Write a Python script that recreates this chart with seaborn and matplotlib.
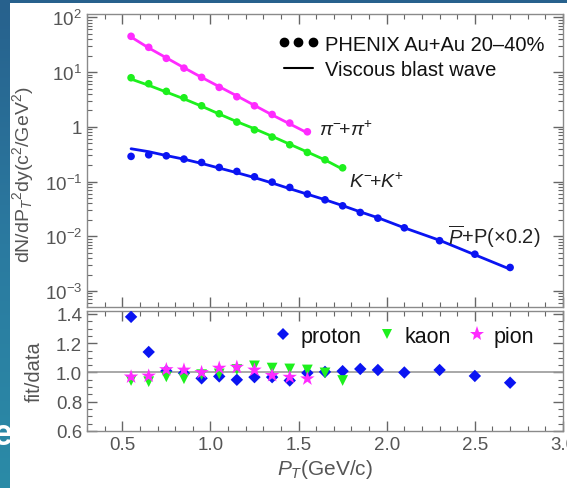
import numpy as np
import pandas as pd
import matplotlib
matplotlib.use("Agg")
import matplotlib.pyplot as plt
import seaborn as sns
from matplotlib.lines import Line2D
from matplotlib.patches import Rectangle
from matplotlib.colors import LinearSegmentedColormap
from matplotlib.ticker import FixedLocator, FixedFormatter, MultipleLocator, LogLocator, NullFormatter

# ---------------- data ----------------
pion_pt = [0.55, 0.65, 0.75, 0.85, 0.95, 1.05, 1.15, 1.25, 1.35, 1.45, 1.55]
pion_data = [45, 28.3, 17.8, 11.8, 8.0, 5.25, 3.54, 2.42, 1.68, 1.17, 0.81]
pion_fit = [43.7, 27.6, 18.2, 12.0, 8.0, 5.41, 3.67, 2.46, 1.65, 1.13, 0.775]
pion_ratio = [0.97, 0.976, 1.02, 1.017, 1.0, 1.03, 1.036, 1.017, 0.98, 0.968, 0.957]

kaon_pt = [0.55, 0.65, 0.75, 0.85, 0.95, 1.05, 1.15, 1.25, 1.35, 1.45, 1.55, 1.65, 1.75]
kaon_data = [7.87, 6.12, 4.44, 3.39, 2.42, 1.73, 1.22, 0.88, 0.65, 0.47, 0.34, 0.249, 0.178]
kaon_fit = [7.44, 5.73, 4.31, 3.24, 2.38, 1.71, 1.24, 0.92, 0.67, 0.48, 0.346, 0.248, 0.168]
kaon_ratio = [0.945, 0.937, 0.97, 0.957, 0.985, 0.99, 1.02, 1.045, 1.03, 1.024, 1.017, 0.997, 0.945]

proton_pt = [0.55, 0.65, 0.75, 0.85, 0.95, 1.05, 1.15, 1.25, 1.35, 1.45, 1.55, 1.65,
             1.75, 1.85, 1.95, 2.1, 2.3, 2.5, 2.7]
proton_data = [0.288, 0.308, 0.295, 0.257, 0.223, 0.181, 0.153, 0.122, 0.0975, 0.078,
               0.0589, 0.0463, 0.036, 0.0272, 0.0214, 0.01426, 0.0083, 0.0047, 0.00269]
proton_fit = [0.397, 0.351, 0.298, 0.256, 0.214, 0.176, 0.145, 0.118, 0.094, 0.074,
              0.0587, 0.0465, 0.0363, 0.0279, 0.0218, 0.01426, 0.00844, 0.00459, 0.0025]
proton_ratio = [1.38, 1.14, 1.01, 0.995, 0.96, 0.973, 0.95, 0.968, 0.968, 0.945,
                0.997, 1.004, 1.009, 1.024, 1.017, 1.0, 1.017, 0.976, 0.93]

top_yticks = [1e-3, 1e-2, 1e-1, 1, 10, 100]
top_ylabels = ["$10^{-3}$", "$10^{-2}$", "$10^{-1}$", "1", "$10^{1}$", "$10^{2}$"]
bot_yticks = [0.6, 0.8, 1.0, 1.2, 1.4]
bot_ylabels = ["0.6", "0.8", "1.0", "1.2", "1.4"]
xticks = [0.5, 1.0, 1.5, 2.0, 2.5, 3.0]
xlabels = ["0.5", "1.0", "1.5", "2.0", "2.5", "3.0"]

# ---------------- style ----------------
sns.set_style("ticks")
plt.rcParams["font.family"] = ["Liberation Sans", "DejaVu Sans"]
plt.rcParams["mathtext.fontset"] = "custom"
plt.rcParams["mathtext.rm"] = "Liberation Sans"
plt.rcParams["mathtext.it"] = "Liberation Sans:italic"
plt.rcParams["mathtext.bf"] = "Liberation Sans:bold"

C_PI = "#ff2bff"
C_K = "#1df01d"
C_P = "#0a14f2"
GRAY = "#8a8a8a"
LBL = "#555555"

W, H = 567, 489
fig = plt.figure(figsize=(W / 100, H / 100), dpi=100)

# slide-like background
bg = fig.add_axes([0, 0, 1, 1], zorder=-10)
grad = np.linspace(0, 1, 256).reshape(-1, 1)
cmap = LinearSegmentedColormap.from_list("bg", ["#27618d", "#2b7aa0", "#2a8ba7"])
bg.imshow(grad, aspect="auto", cmap=cmap, extent=[0, 1, 0, 1], origin="upper")
bg.set_axis_off()
fig.text(3 / W, 1 - 436 / H, "e", color="white", fontsize=26, ha="center", va="center",
         zorder=0.5, fontweight="bold")
fig.patches.append(Rectangle((10 / W, 0), 1 - 10 / W, 1 - 4 / H, transform=fig.transFigure,
                             facecolor="white", edgecolor="none", zorder=1))

ax1 = fig.add_axes([87 / W, 1 - 308 / H, (563 - 87) / W, (308 - 15) / H])
ax2 = fig.add_axes([87 / W, 1 - 432 / H, (563 - 87) / W, (432 - 312) / H])
ax1.set_zorder(5)
ax2.set_zorder(5)

# ---------------- top panel ----------------
for pt, dat, fit, col in [(pion_pt, pion_data, pion_fit, C_PI),
                          (kaon_pt, kaon_data, kaon_fit, C_K),
                          (proton_pt, proton_data, proton_fit, C_P)]:
    sns.lineplot(x=pt, y=fit, ax=ax1, color=col, lw=2.0, legend=False)
    sns.scatterplot(x=pt, y=dat, ax=ax1, color=col, s=30, edgecolor="none", legend=False, zorder=3)

ax1.set_yscale("log")
ax1.set_xlim(0.3, 3.0)
ax1.set_ylim(5.1e-4, 115)
ax1.yaxis.set_major_locator(FixedLocator(top_yticks))
ax1.yaxis.set_major_formatter(FixedFormatter(top_ylabels))
ax1.yaxis.set_minor_locator(LogLocator(base=10, subs=np.arange(2, 10), numticks=20))
ax1.yaxis.set_minor_formatter(NullFormatter())
ax1.xaxis.set_major_locator(FixedLocator(xticks))
ax1.xaxis.set_minor_locator(MultipleLocator(0.1))
ax1.tick_params(labelbottom=False)
ax1.set_ylabel("dN/dP$_T$$^2$dy(c$^2$/GeV$^2$)", fontsize=14, color=LBL)
ax1.yaxis.set_label_coords(-0.108, 0.455)

ax1.text(1.615, 0.92, r"$\pi^{-}\!$+$\pi^{+}$", fontsize=14, color="#222222", va="center", ha="left")
ax1.text(1.785, 0.104, r"$K^{-}\!$+$K^{+}$", fontsize=14, color="#222222", va="center", ha="left")
ax1.text(2.345, 0.0102, r"$\overline{P}$+P(×0.2)", fontsize=14.5, color="#222222", va="center", ha="left")

h1 = [Line2D([], [], marker="o", ls="none", color="black", markersize=6),
      Line2D([], [], color="black", lw=1.5)]
ax1.legend(h1, ["PHENIX Au+Au 20–40%", "Viscous blast wave"], loc="upper right",
           bbox_to_anchor=(0.99, 0.978), frameon=False, fontsize=14.5, numpoints=3,
           handlelength=2.0, handletextpad=0.3, labelspacing=0.3, borderaxespad=0.3,
           labelcolor="#111111")

# ---------------- bottom panel ----------------
ax2.axhline(1.0, color="#999999", lw=1.2, zorder=1)
sns.scatterplot(x=proton_pt, y=proton_ratio, ax=ax2, color=C_P, marker="D", s=40,
                edgecolor="none", legend=False, zorder=3)
sns.scatterplot(x=kaon_pt, y=kaon_ratio, ax=ax2, color=C_K, marker="v", s=60,
                edgecolor="none", legend=False, zorder=4)
sns.scatterplot(x=pion_pt, y=pion_ratio, ax=ax2, color=C_PI, marker="*", s=120,
                edgecolor="none", legend=False, zorder=5)
ax2.set_xlim(0.3, 3.0)
ax2.set_ylim(0.6, 1.42)
ax2.yaxis.set_major_locator(FixedLocator(bot_yticks))
ax2.yaxis.set_major_formatter(FixedFormatter(bot_ylabels))
ax2.yaxis.set_minor_locator(MultipleLocator(0.05))
ax2.xaxis.set_major_locator(FixedLocator(xticks))
ax2.xaxis.set_major_formatter(FixedFormatter(xlabels))
ax2.xaxis.set_minor_locator(MultipleLocator(0.1))
ax2.set_ylabel("fit/data", fontsize=14.5, color=LBL)
ax2.yaxis.set_label_coords(-0.09, 0.5)
ax2.set_xlabel("$P_T$(GeV/c)", fontsize=15, color=LBL, labelpad=3)

h2 = [Line2D([], [], marker="D", ls="none", color=C_P, markersize=6.5, markeredgewidth=0),
      Line2D([], [], marker="v", ls="none", color=C_K, markersize=7.5, markeredgewidth=0),
      Line2D([], [], marker="*", ls="none", color=C_PI, markersize=11, markeredgewidth=0)]
ax2.legend(h2, ["proton", "kaon", "pion"], loc="upper right", bbox_to_anchor=(0.965, 0.975),
           ncol=3, frameon=False, fontsize=15.5, handlelength=1.0, handletextpad=0.3,
           columnspacing=0.7, borderaxespad=0.15, labelcolor="#111111")

for ax in (ax1, ax2):
    for sp in ax.spines.values():
        sp.set_color(GRAY)
        sp.set_linewidth(1.0)
    ax.tick_params(which="both", direction="in", top=True, right=True, color="#666666",
                   labelcolor=LBL, labelsize=13.5)
    ax.tick_params(which="major", length=7, width=1.0)
    ax.tick_params(which="minor", length=3.5, width=0.8)

fig.savefig("out.png", dpi=100)
